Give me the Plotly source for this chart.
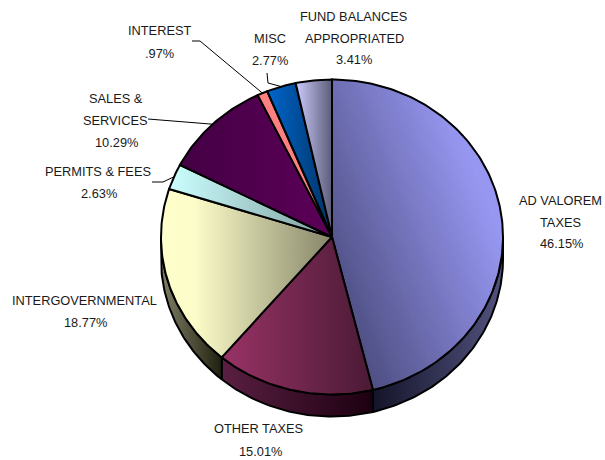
import math
import plotly.graph_objects as go

# Budget shares, clockwise from twelve o'clock
categories = ["AD VALOREM TAXES", "OTHER TAXES", "INTERGOVERNMENTAL", "PERMITS & FEES",
              "SALES & SERVICES", "INTEREST", "MISC", "FUND BALANCES APPROPRIATED"]
shares = [46.15, 15.01, 18.77, 2.63, 10.29, 0.97, 2.77, 3.41]

# Horizontal gradients of the top face and of the rim, as colour stops
face_colors = [
    [[0, "#505085"], [1, "#9999f5"]],
    [[0, "#993366"], [1, "#4a1a35"]],
    [[0, "#ffffcc"], [0.2, "#fcfcc9"], [1, "#86866a"]],
    [[0, "#ccffff"], [1, "#7f9f9f"]],
    [[0, "#440044"], [1, "#5c0058"]],
    [[0, "#ff8080"], [1, "#ff8080"]],
    [[0, "#0066cc"], [1, "#003366"]],
    [[0, "#ccccff"], [1, "#5c5c78"]],
]
rim_colors = [
    [[0, "#14142a"], [1, "#52527f"]],
    [[0, "#5a1f42"], [1, "#1c0010"]],
    [[0, "#808066"], [1, "#20200f"]],
    [[0, "#556666"], [1, "#334040"]],
    [[0, "#220022"], [1, "#330033"]],
    [[0, "#803f3f"], [1, "#803f3f"]],
    [[0, "#003366"], [1, "#001a33"]],
    [[0, "#666680"], [1, "#2e2e3c"]],
]

# The largest slice is shaded along a diagonal instead of horizontally
DIAGONAL_SLICE = 0
DIAGONAL_DIR = (0.9, -0.35)
DIAGONAL_BANDS = 40
DIAGONAL_FULL = 0.95  # fraction of the sweep at which the brightest colour is reached

# Label lines, their centres (one per text line), and where each leader line starts
label_lines = [["AD VALOREM", "TAXES", "46.15%"], ["OTHER TAXES", "15.01%"],
               ["INTERGOVERNMENTAL", "18.77%"], ["PERMITS & FEES", "2.63%"],
               ["SALES &", "SERVICES", "10.29%"], ["INTEREST", ".97%"],
               ["MISC", "2.77%"], ["FUND BALANCES", "APPROPRIATED", "3.41%"]]
label_xs = [[560, 560, 561], [258, 260], [84, 85], [98, 99], [116, 115, 116],
            [159, 159], [270, 270], [353, 354, 354]]
label_ys = [[200, 222, 243], [428, 451], [300, 322], [171, 193], [98, 120, 142],
            [30, 53], [38, 60], [16, 38, 59]]
leader_paths = [None, None, None, [(152, 182), (163, 182)], [(148, 119)],
                [(192, 41), (200, 41)], [(267, 73), (268, 83)], None]

CX, CY, RX, RY, DEPTH = 332, 237, 171, 157.5, 22
EDGE = "#000000"


def rim_point(turn, drop=0.0):
    a = turn * 2 * math.pi
    return CX + RX * math.sin(a), CY - RY * math.cos(a) + drop


def arc(t0, t1, drop=0.0):
    steps = max(2, int(abs(t1 - t0) * 360))
    return [rim_point(t0 + (t1 - t0) * i / steps, drop) for i in range(steps + 1)]


def gradient(stops):
    return dict(type="horizontal", colorscale=stops)


def clip_above(poly, direction, level):
    """Part of a polygon on the far side of a line across the gradient direction."""
    def d(p):
        return p[0] * direction[0] + p[1] * direction[1] - level
    out = []
    for a, b in zip(poly, poly[1:] + poly[:1]):
        da, db = d(a), d(b)
        if da >= 0:
            out.append(a)
        if da * db < 0:
            f = da / (da - db)
            out.append((a[0] + (b[0] - a[0]) * f, a[1] + (b[1] - a[1]) * f))
    return out


def mix(c0, c1, f):
    a = [int(c0[i:i + 2], 16) for i in (1, 3, 5)]
    b = [int(c1[i:i + 2], 16) for i in (1, 3, 5)]
    return "rgb({},{},{})".format(*[round(u + (v - u) * f) for u, v in zip(a, b)])


def xy(pts):
    return [p[0] for p in pts], [p[1] for p in pts]


fig = go.Figure()
total = sum(shares)
start = 0.0
spans = []
for s in shares:
    spans.append((start, start + s / total))
    start += s / total

# Rim first, only where it faces the viewer (lower half of the ellipse)
for (t0, t1), rim in zip(spans, rim_colors):
    lo, hi = max(t0, 0.25), min(t1, 0.75)
    if hi <= lo:
        continue
    pts = arc(lo, hi) + arc(hi, lo, DEPTH)
    pts.append(pts[0])
    x, y = xy(pts)
    fig.add_trace(go.Scatter(x=x, y=y, mode="lines", fill="toself", fillgradient=gradient(rim),
                             line=dict(color=EDGE, width=2), hoverinfo="skip"))

# Top faces
for idx, ((t0, t1), face, name) in enumerate(zip(spans, face_colors, categories)):
    pts = [(CX, CY)] + arc(t0, t1) + [(CX, CY)]
    x, y = xy(pts)
    if idx == DIAGONAL_SLICE:
        # Stack ever smaller clipped copies, each a step brighter than the one below
        levels = [p[0] * DIAGONAL_DIR[0] + p[1] * DIAGONAL_DIR[1] for p in pts]
        low, high = min(levels), max(levels)
        for k in range(DIAGONAL_BANDS):
            f = k / DIAGONAL_BANDS
            band = clip_above(pts[:-1], DIAGONAL_DIR, low + (high - low) * f * DIAGONAL_FULL)
            if len(band) < 3:
                continue
            bx, by = xy(band + band[:1])
            fig.add_trace(go.Scatter(x=bx, y=by, mode="none", fill="toself", hoverinfo="skip",
                                     fillcolor=mix(face[0][1], face[-1][1], f)))
        fig.add_trace(go.Scatter(x=x, y=y, mode="lines", name=name, line=dict(color=EDGE, width=2)))
    else:
        fig.add_trace(go.Scatter(x=x, y=y, mode="lines", fill="toself", fillgradient=gradient(face),
                                 name=name, line=dict(color=EDGE, width=2)))

# Leader lines run from the label to the middle of their slice
for (t0, t1), path in zip(spans, leader_paths):
    if path is None:
        continue
    x, y = xy(path + [rim_point((t0 + t1) / 2)])
    fig.add_trace(go.Scatter(x=x, y=y, mode="lines", line=dict(color=EDGE, width=1), hoverinfo="skip"))

# One annotation per text line keeps the wide line spacing of the labels
for lines, xs, ys in zip(label_lines, label_xs, label_ys):
    for text, x, y in zip(lines, xs, ys):
        fig.add_annotation(x=x, y=y, text=text, showarrow=False, xanchor="center", yanchor="middle",
                           font=dict(family="Liberation Sans", size=12.8, color="#1a1a1a"))

fig.update_layout(width=605, height=460, margin=dict(l=0, r=0, t=0, b=0),
                  showlegend=False, paper_bgcolor="white", plot_bgcolor="white",
                  xaxis=dict(range=[0, 605], visible=False, fixedrange=True),
                  yaxis=dict(range=[460, 0], visible=False, fixedrange=True))
fig.write_html("out.html", config=dict(displayModeBar=False))
